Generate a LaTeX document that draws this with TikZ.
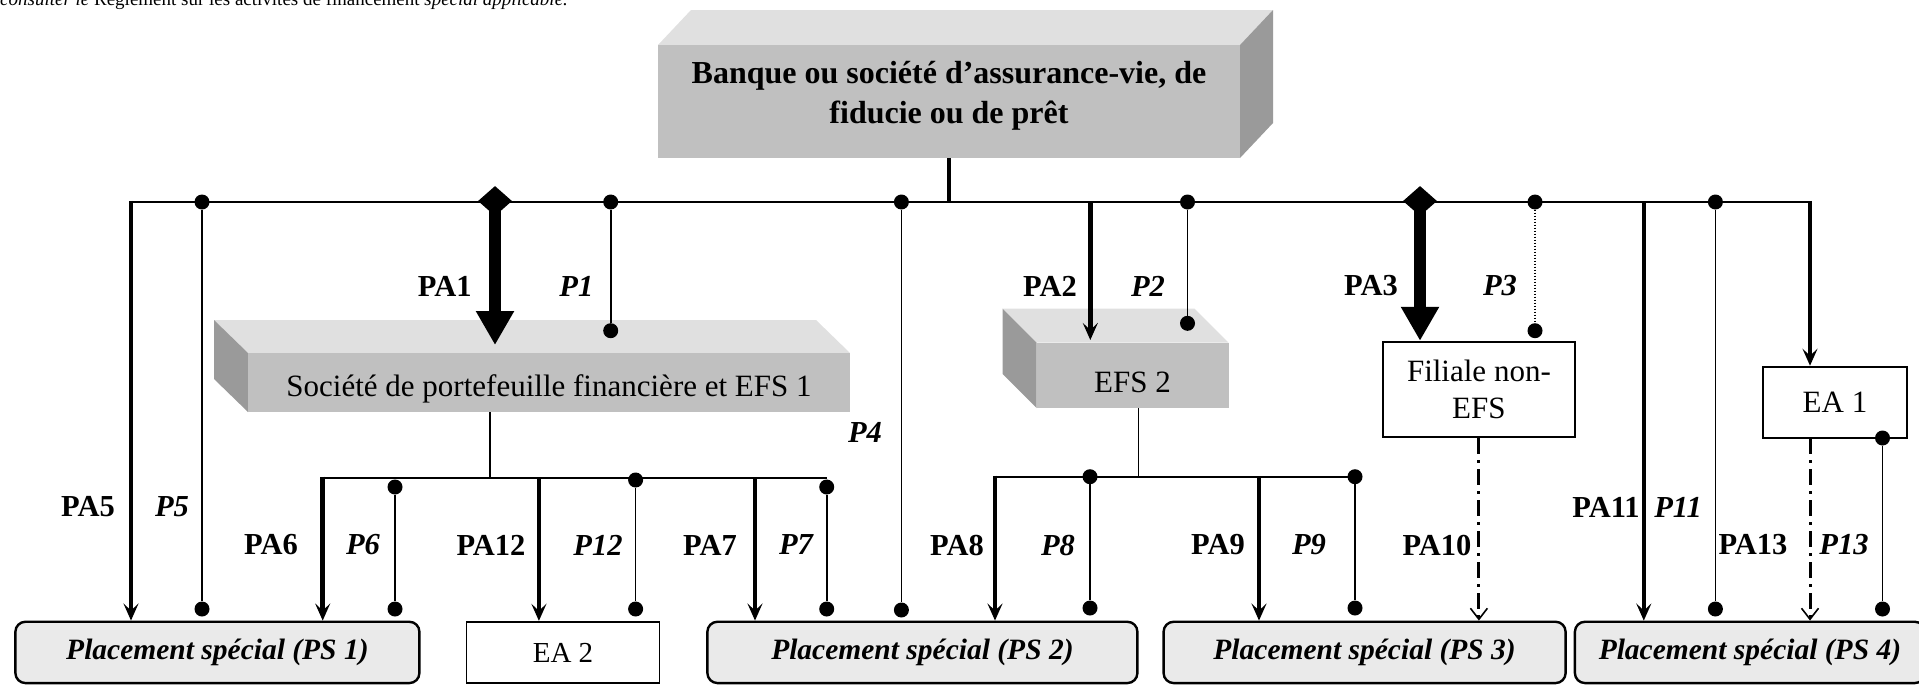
\documentclass[tikz,border=0pt]{standalone}
\usepackage{fontspec}
\setmainfont{Liberation Serif}
\usetikzlibrary{arrows.meta}
\usetikzlibrary{shapes.geometric}

\definecolor{facegray}{HTML}{C0C0C0}
\definecolor{topgray}{HTML}{E0E0E0}
\definecolor{sidegray}{HTML}{9A9A9A}
\definecolor{psgray}{HTML}{EAEAEA}

\begin{document}
\begin{tikzpicture}[x=1pt,y=-1pt,
  txt/.style={font=\fontsize{31}{36.6}\selectfont},
  lab/.style={font=\fontsize{30.5}{36}\selectfont\bfseries,inner sep=0pt},
  plab/.style={font=\fontsize{30.5}{36}\selectfont\bfseries\itshape,inner sep=0pt},
  face/.style={fill=facegray,inner sep=0pt,txt},
  psbox/.style={draw,line width=2.4pt,rounded corners=10pt,fill=psgray,inner sep=0pt,minimum height=61.3pt,font=\fontsize{29.5}{36}\selectfont\bfseries\itshape},
  wbox/.style={draw,line width=1.8pt,fill=white,inner sep=0pt,txt},
  dot/.style={circle,fill,inner sep=0pt,minimum size=15pt},
  diam/.style={diamond,fill,inner sep=0pt,minimum width=34pt,minimum height=30pt},
  busline/.style={line width=2.3pt},
  pline/.style={line width=1.7pt},
  paline/.style={line width=4.6pt,-{Stealth[length=17pt,width=15pt,inset=7pt]}},
  bigpa/.style={line width=11.5pt,-{Triangle[length=34pt,width=36pt]}},
  dashpa/.style={line width=3pt,dash pattern=on 16pt off 6pt on 3pt off 6pt,-{Straight Barb[length=11pt,width=17pt,line width=1.6pt]}}]
\useasboundingbox (0,0) rectangle (1919,686);
\node[anchor=base west,inner sep=0pt,font=\fontsize{19}{23}\selectfont] (note) at (0,5) {\textit{consulter le} Règlement sur les activités de financement \textit{spécial applicable.}};

\fill[topgray] (658,45) -- (691,10) -- (1273,10) -- (1240,45) -- cycle;
\fill[sidegray] (1240,45) -- (1273,10) -- (1273,123) -- (1240,158) -- cycle;
\node[face,minimum width=582pt,minimum height=113pt] (bank) at (949,101.5) {};
\node[inner sep=0pt,align=center,font=\fontsize{32}{40}\selectfont\bfseries] (bankt) at (949,96) {Banque ou société d’assurance-vie, de\\fiducie ou de prêt};

\fill[topgray] (248,353) -- (214,320) -- (816,320) -- (850,353) -- cycle;
\fill[sidegray] (248,353) -- (214,320) -- (214,379) -- (248,412) -- cycle;
\node[face,minimum width=602pt,minimum height=59pt] (sfin) at (549,382.5) {};
\node[txt,inner sep=0pt] (sfint) at (549,389) {Société de portefeuille financière et EFS 1};

\fill[topgray] (1036.5,342.7) -- (1002.5,308.7) -- (1194.5,308.7) -- (1228.5,342.7) -- cycle;
\fill[sidegray] (1036.5,342.7) -- (1002.5,308.7) -- (1002.5,374) -- (1036.5,408) -- cycle;
\node[face,minimum width=192pt,minimum height=65.3pt] (efs) at (1132.5,375.4) {};
\node[txt,inner sep=0pt] (efst) at (1132.5,382) {EFS 2};

\node[wbox,minimum width=192pt,minimum height=95.6pt,align=center] (fil) at (1478.9,389.5) {Filiale non-\\EFS};
\node[wbox,minimum width=144pt,minimum height=71.3pt] (ea1) at (1835,402.3) {EA 1};

\node[psbox,minimum width=404pt] (ps1) at (217.4,652.4) {Placement spécial (PS 1)};
\node[wbox,minimum width=193pt,minimum height=61.3pt,font=\fontsize{29}{34}\selectfont] (ea2) at (563,652.4) {EA 2};
\node[psbox,minimum width=430pt] (ps2) at (922.4,652.4) {Placement spécial (PS 2)};
\node[psbox,minimum width=402pt] (ps3) at (1364.6,652.4) {Placement spécial (PS 3)};
\node[psbox,minimum width=350pt] (ps4) at (1749.9,652.4) {Placement spécial (PS 4)};

\coordinate (bl) at (131,202);
\coordinate (br) at (1810,202);
\draw[line width=4.5pt] (bank.south) -- (bank.south |- bl);
\draw[busline] (bl) -- (br);

\draw[paline] ([yshift=1.15pt]bl) -- (ps1.north -| bl);
\node[dot] (p5a) at (202,202) {};
\node[dot] (p5b) at (202,609) {};
\draw[pline] (p5a) -- (p5b);

\node[diam] (pa1d) at (495,201) {};
\coordinate (pa1e) at (495,345);
\draw[bigpa] (pa1d.center) -- (pa1e);
\node[dot] (p1a) at (610.7,202) {};
\node[dot] (p1b) at (610.7,330.7) {};
\draw[pline] (p1a) -- (p1b);

\node[dot] (p4a) at (901.4,202) {};
\node[dot] (p4b) at (901.4,610) {};
\draw[pline] (p4a) -- (p4b);

\coordinate (pa2s) at (1090.3,202);
\coordinate (pa2e) at (1090.3,340);
\draw[paline] (pa2s) -- (pa2e);
\node[dot] (p2a) at (1187.5,202) {};
\node[dot] (p2b) at (1187.5,323.3) {};
\draw[pline] (p2a) -- (p2b);

\node[diam] (pa3d) at (1420,201) {};
\draw[bigpa] (pa3d.center) -- (fil.north -| pa3d);
\node[dot] (p3a) at (1535,202) {};
\node[dot] (p3b) at (1535,330.7) {};
\draw[pline,dash pattern=on 1.5pt off 1.5pt] (p3a) -- (p3b);

\coordinate (pa11s) at (1643.8,202);
\draw[paline] (pa11s) -- (ps4.north -| pa11s);
\node[dot] (p11a) at (1715.4,202) {};
\node[dot] (p11b) at (1715.4,609) {};
\draw[pline] (p11a) -- (p11b);
\draw[paline] ([yshift=1.15pt]br) -- (ea1.north -| br);

\coordinate (sbm) at (490,477.7);
\coordinate (sbl) at (322.7,477.7);
\coordinate (sbr) at (826.7,477.7);
\draw[pline] (sfin.south -| sbm) -- (sbm);
\draw[busline] (sbl) -- (sbr);
\draw[paline] ([yshift=1.15pt]sbl) -- (ps1.north -| sbl);
\node[dot] (p6a) at (395,487) {};
\node[dot] (p6b) at (395,609) {};
\draw[pline] (p6a) -- (p6b);
\coordinate (pa12s) at (538.9,477.7);
\draw[paline] (pa12s) -- (ea2.north -| pa12s);
\node[dot] (p12a) at (635.6,480) {};
\node[dot] (p12b) at (635.6,609) {};
\draw[pline] (p12a) -- (p12b);
\coordinate (pa7s) at (755,477.7);
\draw[paline] (pa7s) -- (ps2.north -| pa7s);
\node[dot] (p7a) at (826.7,487) {};
\node[dot] (p7b) at (826.7,609) {};
\draw[pline] (p7a) -- (p7b);

\coordinate (ebm) at (1138.6,476.7);
\coordinate (ebl) at (995,476.7);
\coordinate (ebr) at (1355,476.7);
\draw[pline] (efs.south -| ebm) -- (ebm);
\draw[busline] (ebl) -- (ebr);
\draw[paline] ([yshift=1.15pt]ebl) -- (ps2.north -| ebl);
\node[dot] (p8a) at (1090,476.7) {};
\node[dot] (p8b) at (1090,608) {};
\draw[pline] (p8a) -- (p8b);
\coordinate (pa9s) at (1259,476.7);
\draw[paline] (pa9s) -- (ps3.north -| pa9s);
\node[dot] (p9a) at (1355,476.7) {};
\node[dot] (p9b) at (1355,608) {};
\draw[pline] (p9a) -- (p9b);

\draw[dashpa] (fil.south) -- (ps3.north -| fil.south);
\coordinate (pa13s) at (1810,438);
\draw[dashpa] (pa13s) -- (ps4.north -| pa13s);
\node[dot] (p13a) at (1882.5,438) {};
\node[dot] (p13b) at (1882.5,609) {};
\draw[pline] (p13a) -- (p13b);

\node[lab] (lpa1) at (444.7,286) {PA1};
\node[plab] (lp1) at (576.3,286) {P1};
\node[lab] (lpa2) at (1050,286) {PA2};
\node[plab] (lp2) at (1148,286) {P2};
\node[lab] (lpa3) at (1371,286) {PA3};
\node[plab] (lp3) at (1500,286) {P3};
\node[plab] (lp4) at (865,432) {P4};
\node[lab] (lpa5) at (88,507) {PA5};
\node[plab] (lp5) at (172,507) {P5};
\node[lab] (lpa11) at (1606,507) {PA11};
\node[plab] (lp11) at (1678,507) {P11};
\node[lab] (lpa6) at (271,545) {PA6};
\node[plab] (lp6) at (363,545) {P6};
\node[lab] (lpa12) at (491,545) {PA12};
\node[plab] (lp12) at (598,545) {P12};
\node[lab] (lpa7) at (710,545) {PA7};
\node[plab] (lp7) at (796,545) {P7};
\node[lab] (lpa8) at (957,545) {PA8};
\node[plab] (lp8) at (1058,545) {P8};
\node[lab] (lpa9) at (1218,545) {PA9};
\node[plab] (lp9) at (1309,545) {P9};
\node[lab] (lpa10) at (1437,545) {PA10};
\node[lab] (lpa13) at (1753,545) {PA13};
\node[plab] (lp13) at (1844,545) {P13};
\end{tikzpicture}
\end{document}
